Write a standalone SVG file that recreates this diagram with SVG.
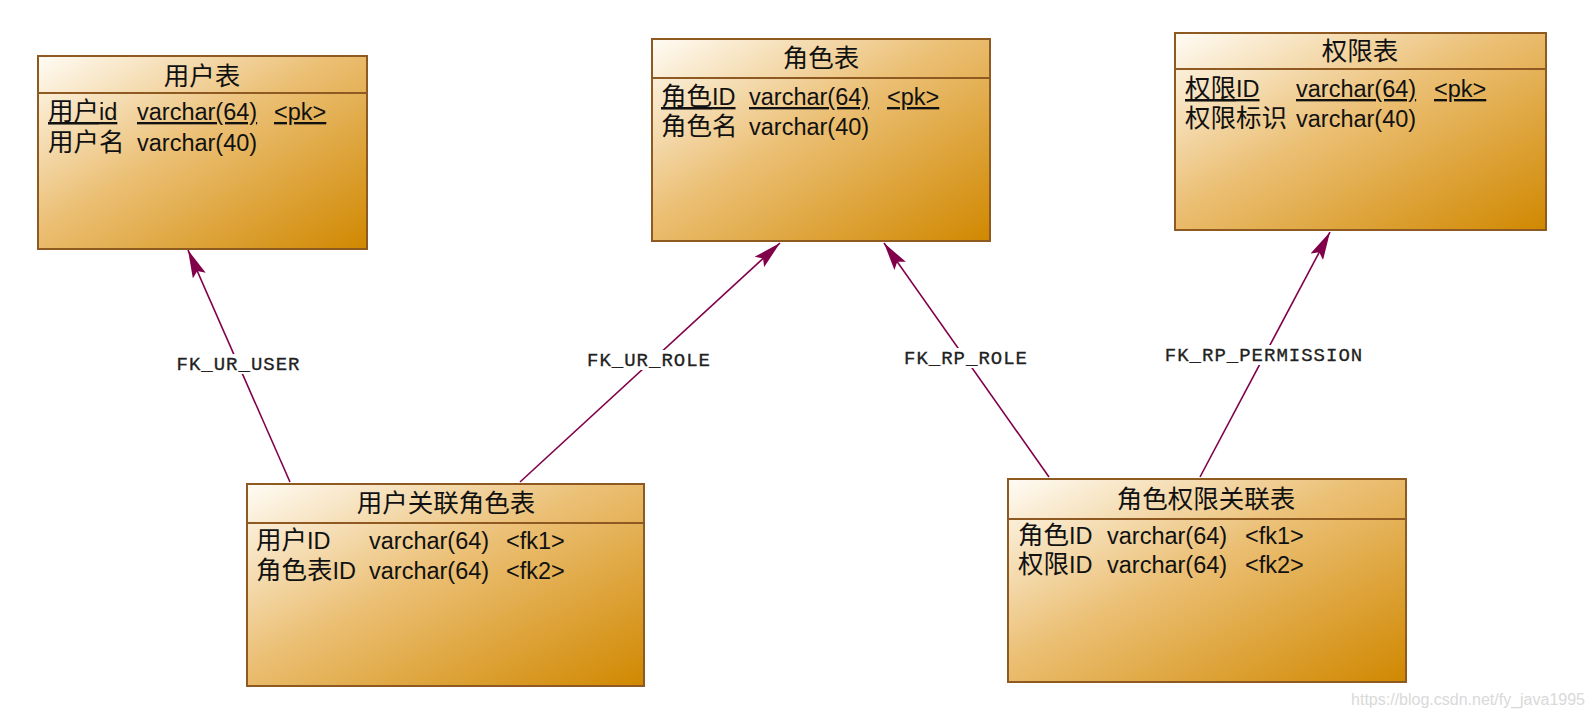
<svg xmlns="http://www.w3.org/2000/svg" width="1594" height="718" viewBox="0 0 1594 718">
<defs>
<linearGradient id="tg" x1="0" y1="0" x2="1" y2="1">
<stop offset="0" stop-color="#fffcf5"/>
<stop offset="0.45" stop-color="#ebbf74"/>
<stop offset="1" stop-color="#d08800"/>
</linearGradient>
<marker id="ah" viewBox="0 0 28 14" refX="28" refY="7" markerWidth="28" markerHeight="14" markerUnits="userSpaceOnUse" orient="auto">
<path d="M0,0 L28,7 L0,14 L5,7 z" fill="#80004a"/>
</marker>
<style>
.box{fill:url(#tg);stroke:#8f5a22;stroke-width:2}
.div{stroke:#8f5a22;stroke-width:2}
.t{font-family:"Liberation Sans","Noto Sans CJK SC",sans-serif;font-size:23.5px;fill:#111}
.cj{font-size:25.5px}
.ti{text-anchor:middle;font-size:25.5px}
.u{text-decoration:underline}
.c{fill:none;stroke:#80004a;stroke-width:1.6;marker-end:url(#ah)}
.lb{font-family:"Liberation Mono",monospace;font-size:19px;letter-spacing:1px;fill:#222;text-anchor:middle;stroke:#222;stroke-width:0.3}
.bg{fill:#fff}
</style>
</defs>
<rect width="1594" height="718" fill="#fff"/>
<g id="connectors">
<line class="c" x1="290" y1="482" x2="188" y2="250"/>
<line class="c" x1="520" y1="482" x2="780" y2="243"/>
<line class="c" x1="1049" y1="477" x2="884" y2="243"/>
<line class="c" x1="1200" y1="477" x2="1330" y2="232"/>
<rect class="bg" x="175" y="354" width="128" height="20"/>
<text class="lb" x="238.5" y="370">FK_UR_USER</text>
<rect class="bg" x="585" y="350" width="128" height="20"/>
<text class="lb" x="649" y="366">FK_UR_ROLE</text>
<rect class="bg" x="902" y="348" width="128" height="20"/>
<text class="lb" x="966" y="364">FK_RP_ROLE</text>
<rect class="bg" x="1163" y="345" width="202" height="20"/>
<text class="lb" x="1264" y="361">FK_RP_PERMISSION</text>
</g>
<g id="t_user">
<rect class="box" x="38" y="56" width="329" height="193"/>
<line class="div" x1="38" y1="93" x2="367" y2="93"/>
<text class="t ti" x="202" y="85">用户表</text>
<text class="t u" x="48" y="120"><tspan class="cj">用户</tspan>id</text>
<text class="t u" x="137" y="120">varchar(64)</text>
<text class="t u" x="274" y="120">&lt;pk&gt;</text>
<text class="t cj" x="48" y="151">用户名</text>
<text class="t" x="137" y="151">varchar(40)</text>
</g>
<g id="t_role">
<rect class="box" x="652" y="39" width="338" height="202"/>
<line class="div" x1="652" y1="78" x2="990" y2="78"/>
<text class="t ti" x="821" y="67">角色表</text>
<text class="t u" x="661" y="105"><tspan class="cj">角色</tspan>ID</text>
<text class="t u" x="749" y="105">varchar(64)</text>
<text class="t u" x="887" y="105">&lt;pk&gt;</text>
<text class="t cj" x="661" y="135">角色名</text>
<text class="t" x="749" y="135">varchar(40)</text>
</g>
<g id="t_perm">
<rect class="box" x="1175" y="33" width="371" height="197"/>
<line class="div" x1="1175" y1="69" x2="1546" y2="69"/>
<text class="t ti" x="1360" y="60">权限表</text>
<text class="t u" x="1185" y="97"><tspan class="cj">权限</tspan>ID</text>
<text class="t u" x="1296" y="97">varchar(64)</text>
<text class="t u" x="1434" y="97">&lt;pk&gt;</text>
<text class="t cj" x="1185" y="127">权限标识</text>
<text class="t" x="1296" y="127">varchar(40)</text>
</g>
<g id="t_user_role">
<rect class="box" x="247" y="484" width="397" height="202"/>
<line class="div" x1="247" y1="523" x2="644" y2="523"/>
<text class="t ti" x="446" y="512">用户关联角色表</text>
<text class="t" x="256" y="549"><tspan class="cj">用户</tspan>ID</text>
<text class="t" x="369" y="549">varchar(64)</text>
<text class="t" x="506" y="549">&lt;fk1&gt;</text>
<text class="t" x="256" y="579"><tspan class="cj">角色表</tspan>ID</text>
<text class="t" x="369" y="579">varchar(64)</text>
<text class="t" x="506" y="579">&lt;fk2&gt;</text>
</g>
<g id="t_role_perm">
<rect class="box" x="1008" y="479" width="398" height="203"/>
<line class="div" x1="1008" y1="519" x2="1406" y2="519"/>
<text class="t ti" x="1206" y="508">角色权限关联表</text>
<text class="t" x="1018" y="544"><tspan class="cj">角色</tspan>ID</text>
<text class="t" x="1107" y="544">varchar(64)</text>
<text class="t" x="1245" y="544">&lt;fk1&gt;</text>
<text class="t" x="1018" y="573"><tspan class="cj">权限</tspan>ID</text>
<text class="t" x="1107" y="573">varchar(64)</text>
<text class="t" x="1245" y="573">&lt;fk2&gt;</text>
</g>
<text x="1585" y="705" font-family="Liberation Sans, sans-serif" font-size="16" fill="#d9d9d9" text-anchor="end">https://blog.csdn.net/fy_java1995</text>
</svg>
